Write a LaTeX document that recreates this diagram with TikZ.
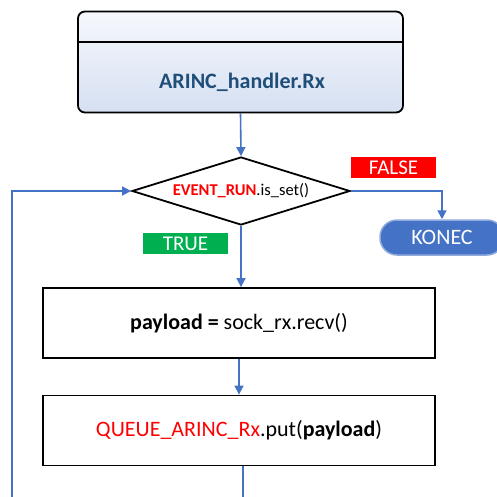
\documentclass[tikz,border=0pt]{standalone}
\usepackage{fontspec}
\setmainfont{Carlito}
\usetikzlibrary{shapes.geometric,arrows.meta}
\definecolor{lnblue}{HTML}{4472C4}
\definecolor{titleblue}{HTML}{1F4E79}
\definecolor{redtxt}{HTML}{FF0000}
\definecolor{truegreen}{HTML}{00B050}
\begin{document}
\begin{tikzpicture}[x=1pt,y=-1pt,
  conn/.style={draw=lnblue,line width=1.6pt,-{Triangle[length=9pt,width=9pt]}},
  plain/.style={draw=lnblue,line width=1.6pt},
  procbox/.style={draw=black,line width=1.8pt,minimum width=392pt,minimum height=70pt,inner sep=0pt,font=\fontsize{22}{26}\selectfont},
  tag/.style={minimum width=85pt,minimum height=21pt,inner sep=0pt,text=white,font=\fontsize{21}{24}\selectfont}]
\useasboundingbox (0,0) rectangle (497,497);
\clip (0,0) rectangle (497,497);
% head box
\node[draw=black,line width=1.8pt,rounded corners=7pt,minimum width=325pt,minimum height=101pt,
      top color=white!95!lnblue,bottom color=lnblue!22!white] (head) at (240.5,62) {};
\coordinate (divl) at (78,42);
\coordinate (divr) at (403,42);
\draw[line width=1.8pt] (divl) -- (divr);
\node[text=titleblue,font=\fontsize{22}{26}\selectfont\bfseries] (title) at (242,82) {ARINC\_handler.Rx};
% condition
\node[draw=black,line width=1.8pt,shape=diamond,aspect=3.2,minimum width=218pt,minimum height=68pt,inner sep=0pt,
      font=\fontsize{16.5}{20}\selectfont] (cond) at (241,191) {\textcolor{redtxt}{\textbf{EVENT\_RUN}}.is\_set()};
\node[tag,fill=redtxt] (false) at (393.5,167.5) {FALSE};
\node[tag,fill=truegreen] (true) at (185.5,243.5) {TRUE};
\node[fill=lnblue,draw=lnblue!60!white,line width=1.5pt,rounded corners=17pt,minimum width=124pt,minimum height=35pt,inner sep=0pt,
      text=white,font=\fontsize{22}{26}\selectfont] (konec) at (442,237.5) {KONEC};
% process boxes
\node[procbox] (recv) at (239,323) {\textbf{payload =} sock\_rx.recv()};
\node[procbox] (put) at (239,430.5) {\textcolor{redtxt}{QUEUE\_ARINC\_Rx}.put(\textbf{payload})};
% connectors
\draw[conn] (head.south) -- (cond.north);
\draw[conn] (cond.east) -| (konec.north);
\draw[conn] (cond.south) -- (cond.south |- recv.north);
\draw[conn] (recv.south) -- (put.north);
\coordinate (lb) at (12,520);
\draw[conn] ([xshift=4pt]put.south) |- (lb) |- (cond.west);
\end{tikzpicture}
\end{document}
